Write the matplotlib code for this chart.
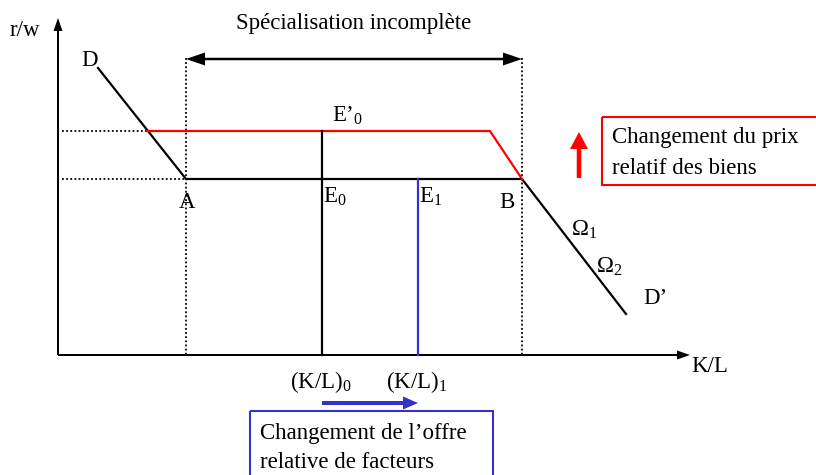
import matplotlib.pyplot as plt
from matplotlib.patches import Rectangle

# diagram geometry, in picture pixels (x right, y down)
axis_origin = (58, 355)
axis_x_end = 690
axis_y_end = 18
spec_bounds = [186, 522]          # A and B on the K/L axis
spec_arrow_y = 59
w_low = 179                        # r/w level at E0
w_high = 131                       # r/w level at E'0
d_start = (98, 68)
red_kink = 490
red_left = 147
d_end = (626, 314)
kl0 = 322
kl1 = 418

labels = [
    ("r/w", 10, 30),
    ("D", 81, 61),
    ("A", 179, 202),
    ("E’$_{0}$", 332, 116),
    ("E$_{0}$", 323, 197),
    ("E$_{1}$", 419, 197),
    ("B", 499, 202),
    ("Ω$_{1}$", 571, 230),
    ("Ω$_{2}$", 596, 267),
    ("D’", 643, 299),
    ("K/L", 691, 367),
    ("(K/L)$_{0}$", 290, 382),
    ("(K/L)$_{1}$", 386, 382),
]
price_note = ["Changement du prix", "relatif des biens"]
supply_note = ["Changement de l’offre", "relative de facteurs"]

plt.rcParams['font.family'] = ['Liberation Serif', 'DejaVu Serif']
plt.rcParams['mathtext.fontset'] = 'custom'
plt.rcParams['mathtext.rm'] = 'Liberation Serif'
FS = 16.5

fig = plt.figure(figsize=(8.16, 4.75), dpi=100)
ax = fig.add_axes([0, 0, 1, 1])
ax.set_xlim(0, 816)
ax.set_ylim(475, 0)
ax.axis('off')

ox, oy = axis_origin
# axes with small filled heads
ax.arrow(ox, oy, 0, axis_y_end - oy, width=2, head_width=9, head_length=13,
         length_includes_head=True, color='black', lw=0)
ax.arrow(ox, oy, axis_x_end - ox, 0, width=2, head_width=9, head_length=13,
         length_includes_head=True, color='black', lw=0)

# dotted guides
dots = (0, (1, 1.3))
for xv in spec_bounds:
    ax.plot([xv, xv], [58, oy], color='black', lw=1.3, ls=dots)
ax.plot([ox + 4, red_left], [w_high, w_high], color='black', lw=1.3, ls=dots)
ax.plot([ox + 4, spec_bounds[0]], [w_low, w_low], color='black', lw=1.3, ls=dots)

# specialisation range arrow (double headed)
mid = sum(spec_bounds) / 2
for xe in spec_bounds:
    ax.arrow(mid, spec_arrow_y, xe - mid, 0, width=2.5, head_width=13, head_length=19,
             length_includes_head=True, color='black', lw=0)
ax.text(mid, 24, "Spécialisation incomplète", fontsize=FS, ha='center', va='center')

# initial curve D - A - B - D'
ax.plot([d_start[0], spec_bounds[0], spec_bounds[1], d_end[0]],
        [d_start[1], w_low, w_low, d_end[1]], color='black', lw=1.6)
# shifted curve (red)
ax.plot([red_left, red_kink, spec_bounds[1]], [w_high, w_high, w_low], color='red', lw=1.6)

# verticals
ax.plot([kl0, kl0], [w_high, oy], color='black', lw=1.6)
ax.plot([kl1, kl1], [w_low, oy], color='#3333cc', lw=1.6)

for txt, x, y in labels:
    ax.text(x, y, txt, fontsize=FS, ha='left', va='center')

# blue arrow + box
ax.arrow(kl0, 403, kl1 - kl0, 0, width=4, head_width=13, head_length=15,
         length_includes_head=True, color='#3333cc', lw=0)
ax.add_patch(Rectangle((250, 411), 243, 70, fill=False, edgecolor='#3333cc', lw=1.5))
for i, line in enumerate(supply_note):
    ax.text(260, 433 + 30 * i, line, fontsize=FS, ha='left', va='center')

# red arrow + box
ax.arrow(579, 178, 0, -46, width=4.5, head_width=18, head_length=17,
         length_includes_head=True, color='red', lw=0)
ax.add_patch(Rectangle((602, 117), 220, 68, fill=False, edgecolor='red', lw=1.5))
for i, line in enumerate(price_note):
    ax.text(612, 138 + 30 * i, line, fontsize=FS, ha='left', va='center')

fig.savefig('out.png', dpi=100)
